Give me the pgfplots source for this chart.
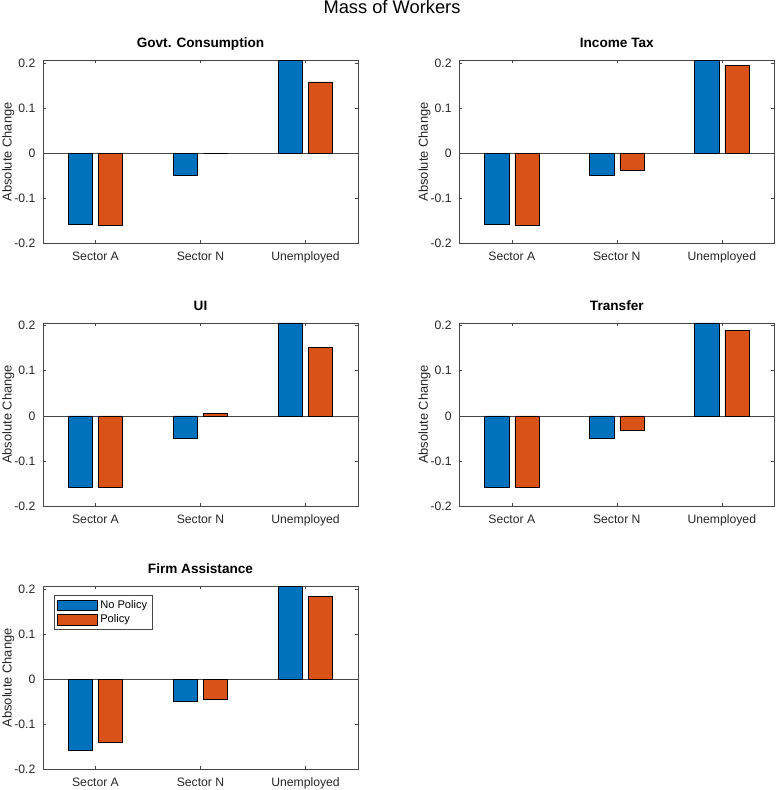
\documentclass[border=0pt]{standalone}
\usepackage{fontspec}
\setmainfont{Liberation Sans}
\usepackage{pgfplots}
\pgfplotsset{compat=1.18}

\definecolor{mblue}{RGB}{0,114,189}
\definecolor{morange}{RGB}{217,83,25}
\definecolor{axgray}{RGB}{70,70,70}

\pgfplotsset{
  mw/.style={
    scale only axis, width=315pt, height=183pt,
    anchor=south west,
    xmin=0.5, xmax=3.5, ymin=-0.2, ymax=0.206,
    xtick={1,2,3}, xticklabels={Sector A,Sector N,Unemployed},
    ytick={-0.2,-0.1,0,0.1,0.2}, yticklabels={-0.2,-0.1,0,0.1,0.2},
    tick align=inside, major tick length=3pt,
    axis line style={axgray, line width=0.6pt},
    tick style={axgray, line width=0.6pt},
    extra y ticks={0}, extra y tick labels={},
    extra y tick style={grid=major, major grid style={axgray, line width=0.6pt}},
    ticklabel style={font=\fontsize{12.2}{14}\selectfont, text=black!85},
    xticklabel style={anchor=base, yshift=-17.4pt},
    yticklabel style={anchor=east, inner sep=0pt, xshift=-7.5pt},
    ylabel={Absolute Change},
    ylabel style={at={(axis description cs:-0.110,0.5)}, anchor=center,
      font=\fontsize{12.9}{15}\selectfont, text=black!85},
    title style={at={(axis description cs:0.5,1)}, anchor=base, yshift=6.5pt,
      font=\bfseries\fontsize{13.6}{16}\selectfont},
  },
  patchleg/.style={legend image code/.code={\draw[##1] (0pt,-5.3pt) rectangle (40pt,5.3pt);}},
  nopol/.style={ybar, bar width=0.231, bar shift=-0.144, fill=mblue, draw=black, line width=0.5pt, patchleg},
  pol/.style={ybar, bar width=0.231, bar shift=0.144, fill=morange, draw=black, line width=0.5pt, patchleg},
}

\begin{document}
\begin{tikzpicture}
\path[use as bounding box] (0,0) rectangle (776pt,790pt);
\node[anchor=base, font=\fontsize{18.3}{22}\selectfont] at (392pt,776pt) {Mass of Workers};

% Govt. Consumption
\begin{axis}[mw, at={(43pt,546.7pt)}, title={Govt. Consumption}]
\addplot[nopol] coordinates {(1,-0.158) (2,-0.050) (3,0.206)};
\addplot[pol] coordinates {(1,-0.159) (2,0.000) (3,0.158)};
\end{axis}

% Income Tax
\begin{axis}[mw, at={(459.3pt,546.7pt)}, title={Income Tax}]
\addplot[nopol] coordinates {(1,-0.158) (2,-0.050) (3,0.206)};
\addplot[pol] coordinates {(1,-0.159) (2,-0.037) (3,0.195)};
\end{axis}

% UI
\begin{axis}[mw, at={(43pt,284pt)}, title={UI}]
\addplot[nopol] coordinates {(1,-0.158) (2,-0.050) (3,0.206)};
\addplot[pol] coordinates {(1,-0.158) (2,0.006) (3,0.152)};
\end{axis}

% Transfer
\begin{axis}[mw, at={(459.3pt,284pt)}, title={Transfer}]
\addplot[nopol] coordinates {(1,-0.158) (2,-0.050) (3,0.206)};
\addplot[pol] coordinates {(1,-0.158) (2,-0.032) (3,0.190)};
\end{axis}

% Firm Assistance
\begin{axis}[mw, at={(43pt,20.7pt)}, title={Firm Assistance},
  legend cell align=left,
  legend style={at={(axis description cs:0.0349,0.9525)}, anchor=north west,
    draw=axgray, line width=0.6pt, fill=white,
    font=\fontsize{11.1}{13}\selectfont,
    inner xsep=3pt, inner ysep=3.2pt, row sep=0.7pt,
    nodes={inner xsep=2.5pt, inner ysep=2pt}}]
\addplot[nopol] coordinates {(1,-0.158) (2,-0.050) (3,0.206)};
\addplot[pol] coordinates {(1,-0.141) (2,-0.044) (3,0.184)};
\legend{No Policy, Policy}
\end{axis}
\end{tikzpicture}
\end{document}
